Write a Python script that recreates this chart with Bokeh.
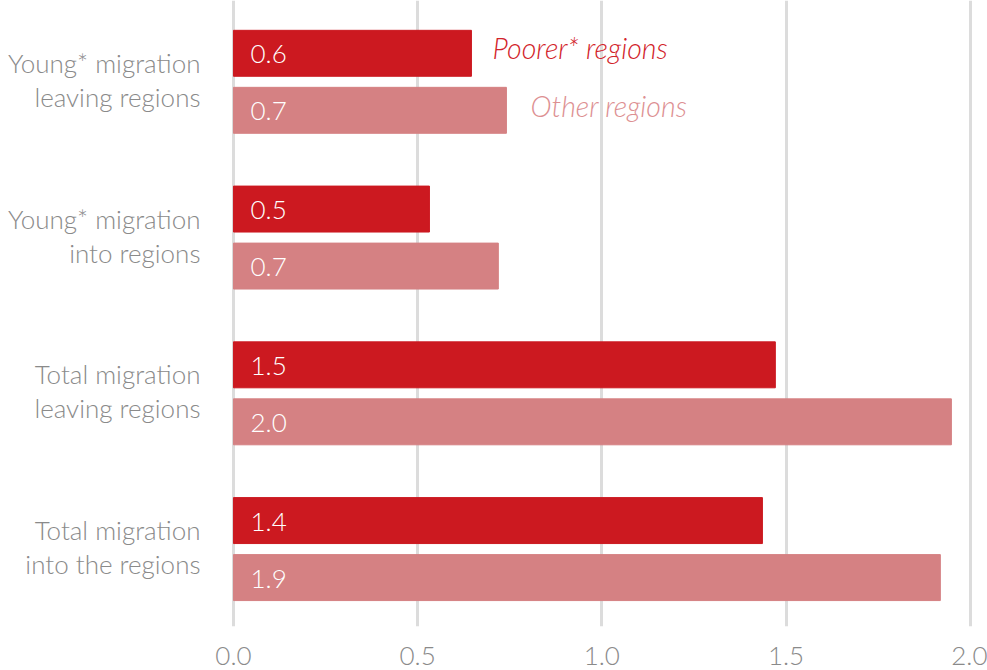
from bokeh.plotting import figure
from bokeh.models import Range1d, FixedTicker, ColumnDataSource
from bokeh.core.properties import value
from bokeh.embed import file_html
from bokeh.resources import INLINE

categories = ["Young* migration\nleaving regions", "Young* migration\ninto regions",
              "Total migration\nleaving regions", "Total migration\ninto the regions"]
poorer = [0.646, 0.532, 1.471, 1.436]
other = [0.741, 0.719, 1.949, 1.919]
poorer_labels = ["0.6", "0.5", "1.5", "1.4"]
other_labels = ["0.7", "0.7", "2.0", "1.9"]
series_names = ["Poorer* regions", "Other regions"]
ticks = [0, 0.5, 1.0, 1.5, 2.0]
tick_labels = {0: "0.0", 0.5: "0.5", 1.0: "1.0", 1.5: "1.5", 2.0: "2.0"}

RED = "#CC1920"
PINK = "#D58183"
RED_TXT = "#D2232A"
PINK_TXT = "#DD9092"
GREY = "#8a8a8a"
FONT = "Lato Light"

idx = list(range(len(categories)))
dodge = 0.183
bh = 0.295

p = figure(frame_width=987, frame_height=626, output_backend="svg", toolbar_location=None,
           x_range=Range1d(-0.6325, 2.047), y_range=Range1d(3.497, -0.522),
           min_border_left=0, min_border_right=0, min_border_top=0, min_border_bottom=44)
p.outline_line_color = None
p.yaxis.visible = False
p.ygrid.grid_line_color = None
p.xgrid.ticker = FixedTicker(ticks=ticks)
p.xgrid.grid_line_color = "#dcdcdc"
p.xgrid.grid_line_width = 3
p.xaxis.ticker = FixedTicker(ticks=ticks)
p.xaxis.major_label_overrides = tick_labels
p.xaxis.axis_line_color = None
p.xaxis.major_tick_line_color = None
p.xaxis.minor_tick_line_color = None
p.xaxis.major_label_text_font = FONT
p.xaxis.major_label_text_font_size = "26px"
p.xaxis.major_label_text_color = GREY
p.xaxis.major_label_standoff = 14

src = ColumnDataSource(dict(
    y1=[i - dodge for i in idx], y2=[i + dodge for i in idx], yc=idx,
    poorer=poorer, other=other, pl=poorer_labels, ol=other_labels, cat=categories))

p.hbar(y="y1", right="poorer", left=0, height=bh, color=RED, source=src)
p.hbar(y="y2", right="other", left=0, height=bh, color=PINK, source=src)

p.text(x=0, y="y1", text="pl", source=src, x_offset=17, y_offset=1, text_baseline="middle",
       text_color="white", text_font=value(FONT), text_font_size="26px")
p.text(x=0, y="y2", text="ol", source=src, x_offset=17, y_offset=1, text_baseline="middle",
       text_color="white", text_font=value(FONT), text_font_size="26px")

p.text(x=0, y="yc", text="cat", source=src, x_offset=-33, y_offset=-2, text_align="right",
       text_baseline="middle", text_color=GREY, text_font=value(FONT),
       text_font_size="26px", text_line_height=1.06)

p.text(x=[poorer[0]], y=[idx[0] - dodge], text=[series_names[0]], x_offset=21, y_offset=-5,
       text_baseline="middle", text_color=RED_TXT, text_font=value(FONT),
       text_font_size="28.5px", text_font_style="italic")
p.text(x=[other[0]], y=[idx[0] + dodge], text=[series_names[1]], x_offset=24, y_offset=-4,
       text_baseline="middle", text_color=PINK_TXT, text_font=value(FONT),
       text_font_size="28.5px", text_font_style="italic")

open("out.html", "w").write(file_html(p, INLINE))
